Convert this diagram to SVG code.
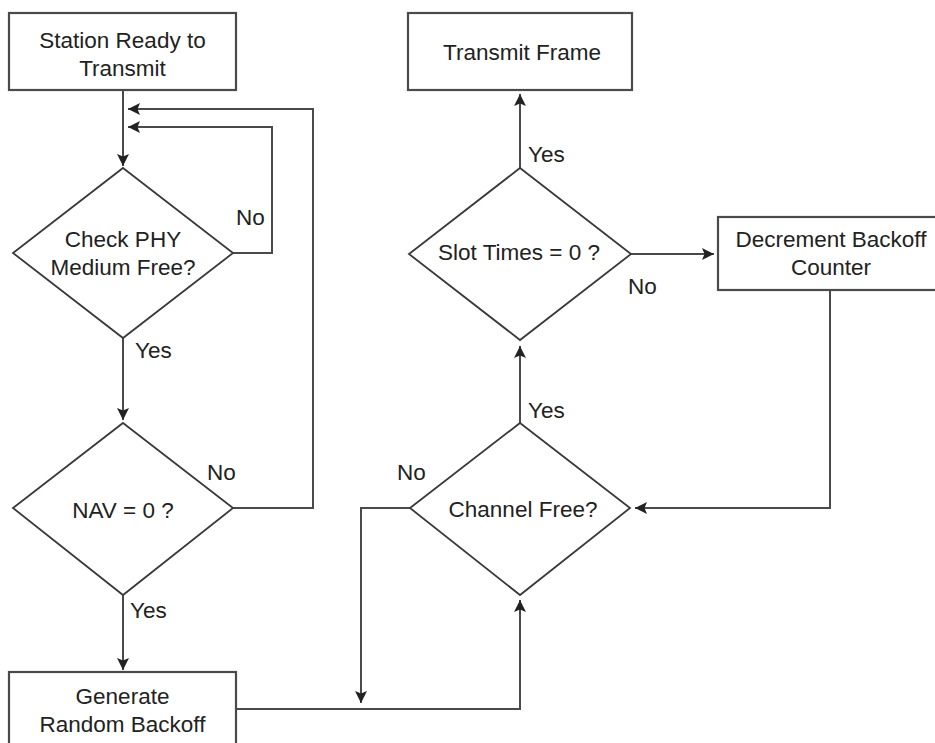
<svg xmlns="http://www.w3.org/2000/svg" width="935" height="743" viewBox="0 0 935 743">
  <defs>
    <style>
      .box { fill: #fff; stroke: #4a4a4a; stroke-width: 2.2; }
      .dec { fill: #fff; stroke: #3a3a3a; stroke-width: 1.8; }
      .wire { fill: none; stroke: #4a4a4a; stroke-width: 2; marker-end: url(#arrow); }
      .wire-plain { fill: none; stroke: #4a4a4a; stroke-width: 2; }
      text { font-family: "Liberation Sans", Arial, sans-serif; font-size: 22.5px; fill: #222; }
      .c { text-anchor: middle; }
    </style>
    <marker id="arrow" markerUnits="userSpaceOnUse" markerWidth="12" markerHeight="12" viewBox="0 0 12 12" refX="12" refY="6" orient="auto">
      <path d="M0,0 L12,6 L0,12 L2.5,6 z" fill="#222"/>
    </marker>
  </defs>
  <rect width="935" height="743" fill="#fff"/>

  <!-- connectors -->
  <g id="connectors">
    <path class="wire" d="M123,90 V166"/>
    <path class="wire" d="M233,508 H313 V109 H128"/>
    <path class="wire" d="M233,253 H272 V127 H128"/>
    <path class="wire" d="M123,338 V420"/>
    <path class="wire" d="M123,595 V670"/>
    <path class="wire" d="M236,709 H520 V600"/>
    <path class="wire" d="M410,508 H361 V703"/>
    <path class="wire" d="M520,423 V346"/>
    <path class="wire" d="M520,168 V94"/>
    <path class="wire" d="M631,254 H714"/>
    <path class="wire" d="M830,290 V508 H635"/>
  </g>

  <!-- branch labels -->
  <g id="labels">
    <text x="236" y="225">No</text>
    <text x="135" y="358">Yes</text>
    <text x="207" y="480">No</text>
    <text x="130" y="618">Yes</text>
    <text x="397" y="480">No</text>
    <text x="528" y="418">Yes</text>
    <text x="528" y="162">Yes</text>
    <text x="628" y="294">No</text>
  </g>

  <g id="station-ready">
    <rect class="box" x="9" y="13" width="227" height="77"/>
    <text class="c" x="122.5" y="48">Station Ready to</text>
    <text class="c" x="122.5" y="76">Transmit</text>
  </g>

  <g id="check-phy">
    <polygon class="dec" points="123,168 233,253 123,338 13,253"/>
    <text class="c" x="123" y="247">Check PHY</text>
    <text class="c" x="123" y="275">Medium Free?</text>
  </g>

  <g id="nav-zero">
    <polygon class="dec" points="123,423 233,508 123,595 13,508"/>
    <text class="c" x="123" y="518">NAV = 0 ?</text>
  </g>

  <g id="generate-backoff">
    <rect class="box" x="9" y="672" width="227" height="80"/>
    <text class="c" x="122.5" y="704">Generate</text>
    <text class="c" x="122.5" y="732">Random Backoff</text>
  </g>

  <g id="channel-free">
    <polygon class="dec" points="520,423 630,508 520,595 410,508"/>
    <text class="c" x="523" y="517">Channel Free?</text>
  </g>

  <g id="slot-times">
    <polygon class="dec" points="520,168 631,254 520,340 409,254"/>
    <text class="c" x="519" y="260">Slot Times = 0 ?</text>
  </g>

  <g id="transmit-frame">
    <rect class="box" x="408" y="13" width="224" height="77"/>
    <text class="c" x="522" y="60">Transmit Frame</text>
  </g>

  <g id="decrement-backoff">
    <rect class="box" x="718" y="217" width="226" height="73"/>
    <text class="c" x="831" y="247">Decrement Backoff</text>
    <text class="c" x="831" y="275">Counter</text>
  </g>
</svg>
